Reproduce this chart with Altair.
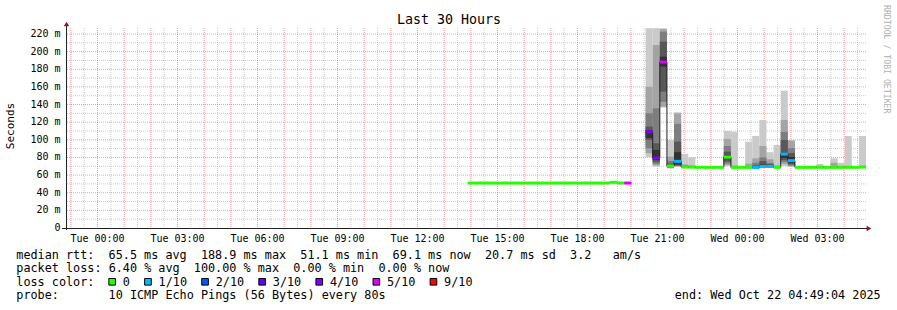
import altair as alt
import pandas as pd

# ---------------- data ----------------
x_tick_hours = [0, 3, 6, 9, 12, 15, 18, 21, 24, 27]
x_tick_labels = ["Tue 00:00", "Tue 03:00", "Tue 06:00", "Tue 09:00", "Tue 12:00",
                 "Tue 15:00", "Tue 18:00", "Tue 21:00", "Wed 00:00", "Wed 03:00"]
y_tick_values = [0, 20, 40, 60, 80, 100, 120, 140, 160, 180, 200, 220]
y_tick_labels = ["0", "20 m", "40 m", "60 m", "80 m", "100 m", "120 m", "140 m",
                 "160 m", "180 m", "200 m", "220 m"]

window_hours = [-1.182, 28.818]      # hours relative to Tue 00:00
y_max_ms = 226.8
first_bin_hour = 13.886
bin_hours = 16 / 60

median_ms = [
    51.0, 51.0, 51.0, 51.0, 51.0, 51.0, 51.0, 51.0, 51.0, 51.0,
    51.0, 51.0, 51.0, 51.0, 51.0, 51.0, 51.0, 51.0, 51.0, 51.0,
    51.8, 51.0, 51.0, None, None,
    109.0, 79.4, 188.2, 70.3, 75.6, 69.2, 69.0, 68.8, 68.8, 68.8,
    68.8, 80.3, 68.8, 68.8, 68.8, 68.6, 69.8, 69.8, 68.8, 83.8,
    76.4, 68.8, 68.8, 68.8, 68.8, 68.8, 68.8, 68.8, 68.8, 68.8, 69.1,
]
loss_tenths = [
    0, 0, 0, 0, 0, 0, 0, 0, 0, 0,
    0, 0, 0, 0, 0, 0, 0, 0, 0, 0,
    0, 0, 5, None, None,
    4, 4, 5, 0, 1, 0, 0, 0, 0, 0,
    0, 0, 0, 0, 0, 1, 1, 1, 0, 1,
    1, 0, 0, 0, 0, 0, 0, 0, 0, 0, 0,
]
# sorted ping values p1..p10 (ms) per bin, None = no visible smoke
smoke_ms = [None] * 25 + [
    [80.5, 84.7, 90.4, 100.0, 102.0, 111.0, 115.0, 130.0, 160.2, 226.5],
    [69.5, 70.9, 72.6, 74.8, 77.0, 88.5, 96.0, 135.7, 207.5, 226.5],
    [136.6, 137.6, 143.2, 154.6, 183.0, 194.3, 211.3, 222.6, 225.5, 226.5],
    [67.5, 68.0, 68.5, 69.0, 69.5, 71.5, 73.0, 76.0, 81.0, 99.8],
    [69.5, 70.0, 70.5, 71.0, 72.0, 86.0, 98.0, 118.0, 130.0, 131.2],
    [68.0, 68.2, 68.5, 68.8, 69.0, 69.5, 70.0, 71.0, 72.0, 84.0],
    [68.0, 68.2, 68.5, 68.8, 69.0, 69.3, 69.6, 70.0, 71.0, 80.2],
    None, None, None, None,
    [70.3, 71.4, 73.1, 75.2, 78.2, 81.6, 86.5, 93.0, 101.0, 110.0],
    [68.0, 68.2, 68.5, 68.8, 69.0, 69.3, 69.6, 70.0, 71.0, 109.2],
    None,
    [68.0, 68.2, 68.5, 68.8, 69.0, 69.3, 69.6, 70.0, 73.0, 97.9],
    [67.8, 68.0, 68.2, 68.5, 68.8, 69.5, 71.0, 74.0, 79.0, 104.3],
    [68.5, 69.0, 69.3, 69.6, 70.0, 72.0, 76.0, 80.0, 93.0, 122.5],
    [68.5, 69.0, 69.3, 69.6, 70.0, 71.0, 72.5, 74.0, 78.0, 86.0],
    [68.0, 68.2, 68.5, 68.8, 69.0, 69.3, 69.6, 70.0, 71.0, 94.1],
    [70.3, 72.6, 74.8, 77.0, 79.4, 85.4, 99.8, 109.0, 122.5, 155.7],
    [69.5, 70.0, 71.0, 72.0, 73.7, 80.5, 85.0, 90.4, 99.0, 99.8],
    None, None, None,
    [68.0, 68.2, 68.5, 68.8, 69.0, 69.3, 69.6, 70.0, 70.5, 72.6],
    None,
    [68.0, 68.2, 68.5, 68.8, 69.0, 69.3, 69.6, 70.0, 74.0, 79.0],
    [68.0, 68.2, 68.5, 68.8, 69.0, 69.3, 69.6, 70.0, 70.5, 73.8],
    [68.0, 68.2, 68.5, 68.8, 69.0, 69.3, 69.6, 70.0, 70.5, 104.3],
    None,
    [68.0, 68.2, 68.5, 68.8, 69.0, 69.3, 69.6, 70.0, 70.5, 104.3],
]

loss_levels = [0, 1, 2, 3, 4, 5, 9]
loss_names = ["0", "1/10", "2/10", "3/10", "4/10", "5/10", "9/10"]
loss_colors = ["#26ff00", "#00b8ff", "#0059ff", "#5e00ff", "#7e00ff", "#dd00ff", "#ff0000"]
smoke_shades = ["#cacaca", "#a4a4a4", "#7e7e7e", "#585858", "#323232"]

title_text = "Last 30 Hours"
y_title = "Seconds"
credit_text = "RRDTOOL / TOBI OETIKER"
legend_line1 = "median rtt:  65.5 ms avg  188.9 ms max  51.1 ms min  69.1 ms now  20.7 ms sd  3.2   am/s"
legend_line2 = "packet loss: 6.40 % avg  100.00 % max  0.00 % min  0.00 % now"
legend_line3_head = "loss color:"
legend_line4 = "probe:       10 ICMP Echo Pings (56 Bytes) every 80s"
end_text = "end: Wed Oct 22 04:49:04 2025"

# ---------------- layout ----------------
PAD_L, PAD_T, W, H = 66, 28, 800, 200
FONT = "DejaVu Sans Mono"
CW = 7.1           # legend character cell
LFS = 11.8         # legend font size
X0 = 16.3 - PAD_L  # legend left edge (plot coords)

xs = alt.Scale(domain=window_hours, nice=False, zero=False)
ys = alt.Scale(domain=[0, y_max_ms], nice=False, zero=False)
color_of = dict(zip(loss_levels, loss_colors))

# ---------------- frames ----------------
bins = []
for k, (m, l) in enumerate(zip(median_ms, loss_tenths)):
    if m is None:
        continue
    x0 = first_bin_hour + k * bin_hours
    bins.append({"k": k, "x0": x0, "x1": x0 + bin_hours, "med": m,
                 "lo": m - 1.7, "hi": m + 1.7, "col": color_of[l]})
bins_df = pd.DataFrame(bins)

smoke_rows = []
for band in range(5):
    for k, p in enumerate(smoke_ms):
        if p is None:
            continue
        x0 = first_bin_hour + k * bin_hours
        smoke_rows.append({"x0": x0, "x1": x0 + bin_hours, "lo": p[band],
                           "hi": p[9 - band], "shade": smoke_shades[band], "ord": band})
smoke_df = pd.DataFrame(smoke_rows)

line_rows = []
seg = 0
prev = None
for k, m in enumerate(median_ms + [None]):
    x0 = first_bin_hour + k * bin_hours
    if m is None:
        if prev is not None:
            line_rows.append({"x": x0, "y": prev, "seg": seg})
            seg += 1
        prev = None
        continue
    line_rows.append({"x": x0, "y": m, "seg": seg})
    prev = m
line_df = pd.DataFrame(line_rows)

hmin, hmax = window_hours
major_x = [h for h in range(-1, 29) if hmin <= h <= hmax]
minor_x = [h + 0.5 for h in range(-2, 29) if hmin <= h + 0.5 <= hmax]
major_y = [v for v in range(20, 221, 20)]
minor_y = [v for v in range(10, 221, 20)]

# ---------------- layers ----------------
def vrule(vals, color, opacity):
    return alt.Chart(pd.DataFrame({"h": vals})).mark_rule(
        color=color, opacity=opacity, strokeWidth=1, strokeDash=[1, 1]
    ).encode(x=alt.X("h:Q", scale=xs, axis=None))

def hrule(vals, color, opacity):
    return alt.Chart(pd.DataFrame({"v": vals})).mark_rule(
        color=color, opacity=opacity, strokeWidth=1, strokeDash=[1, 1]
    ).encode(y=alt.Y("v:Q", scale=ys, axis=None))

grid = [
    vrule(minor_x, "#8c8c8c", 0.45),
    hrule(minor_y, "#8c8c8c", 0.45),
    vrule(major_x, "#ff0000", 0.4),
    hrule(major_y, "#ff0000", 0.4),
]

smoke = alt.Chart(smoke_df).mark_rect().encode(
    x=alt.X("x0:Q", scale=xs, axis=None), x2="x1:Q",
    y=alt.Y("lo:Q", scale=ys, axis=None), y2="hi:Q",
    color=alt.Color("shade:N", scale=None),
    order=alt.Order("ord:Q"),
)

median_line = alt.Chart(line_df).mark_line(
    interpolate="step-after", color="#202020", strokeWidth=1
).encode(
    x=alt.X("x:Q", scale=xs, axis=None),
    y=alt.Y("y:Q", scale=ys, axis=None),
    detail="seg:N",
)

loss_band = alt.Chart(bins_df).mark_rect().encode(
    x=alt.X("x0:Q", scale=xs, axis=None), x2="x1:Q",
    y=alt.Y("lo:Q", scale=ys, axis=None), y2="hi:Q",
    color=alt.Color("col:N", scale=None),
)

axis_color = "#222222"
arrow_color = "#8b1a1a"
x_axis_line = alt.Chart().mark_rule(color=axis_color, strokeWidth=1).encode(
    x=alt.value(-4), x2=alt.value(W + 1), y=alt.value(H + 0.5))
y_axis_line = alt.Chart().mark_rule(color=axis_color, strokeWidth=1).encode(
    x=alt.value(0.5), y=alt.value(H + 2), y2=alt.value(-3))
arrow_up = alt.Chart().mark_point(shape="triangle-up", filled=True, color=arrow_color,
                                  size=30, opacity=1).encode(
    x=alt.value(0.5), y=alt.value(-4))
arrow_right = alt.Chart().mark_point(shape="triangle-right", filled=True, color=arrow_color,
                                     size=30, opacity=1).encode(
    x=alt.value(W + 3), y=alt.value(H + 0.5))

xlab = alt.Chart(pd.DataFrame({"h": x_tick_hours, "t": x_tick_labels})).mark_text(
    font=FONT, fontSize=10, color="#000000", align="center", baseline="alphabetic"
).encode(x=alt.X("h:Q", scale=xs, axis=None), y=alt.value(H + 13.7), text="t:N")

ylab = alt.Chart(pd.DataFrame({"v": y_tick_values, "t": y_tick_labels})).mark_text(
    font=FONT, fontSize=10, color="#000000", align="right", baseline="middle"
).encode(y=alt.Y("v:Q", scale=ys, axis=None), x=alt.value(-5.5), text="t:N")

title = alt.Chart().mark_text(
    text=title_text, font=FONT, fontSize=13.3, color="#000000",
    align="center", baseline="alphabetic"
).encode(x=alt.value(449 - PAD_L), y=alt.value(24.3 - PAD_T))

ytitle = alt.Chart().mark_text(
    text=y_title, font=FONT, fontSize=11, color="#000000", angle=270,
    align="center", baseline="middle"
).encode(x=alt.value(11 - PAD_L), y=alt.value(126 - PAD_T))

credit = alt.Chart().mark_text(
    text=credit_text, font=FONT, fontSize=8.2, color="#b0b0b0", angle=90,
    align="left", baseline="middle"
).encode(x=alt.value(886 - PAD_L), y=alt.value(5 - PAD_T))

# legend tokens laid out on a character grid
def tokens(line):
    out = []
    i = 0
    n = len(line)
    while i < n:
        if line[i] == " ":
            i += 1
            continue
        j = i
        while j < n and not (line[j] == " " and (j + 1 < n and line[j + 1] == " ")):
            j += 1
        out.append((i, line[i:j].rstrip()))
        i = j
    return out

baselines = [258.5, 272.0, 285.7, 299.3]
tok_rows = []
for li, line in [(0, legend_line1), (1, legend_line2), (3, legend_line4)]:
    for idx, t in tokens(line):
        tok_rows.append({"px": X0 + idx * CW, "py": baselines[li] - PAD_T, "t": t})
tok_rows.append({"px": X0, "py": baselines[2] - PAD_T, "t": legend_line3_head})
sq_rows = []
for n_i, (name, col) in enumerate(zip(loss_names, loss_colors)):
    sq_idx = 13 if n_i == 0 else 18 + 8 * (n_i - 1)
    sq_rows.append({"px": X0 + (sq_idx + 0.5) * CW + 0.3 * n_i, "py": 281.8 - PAD_T, "col": col})
    tok_rows.append({"px": X0 + (sq_idx + 2) * CW + 0.3 * n_i, "py": baselines[2] - PAD_T, "t": name})
tok_df = pd.DataFrame(tok_rows)
sq_df = pd.DataFrame(sq_rows)

legend_text = alt.Chart(tok_df).mark_text(
    font=FONT, fontSize=LFS, color="#000000", align="left", baseline="alphabetic"
).encode(x=alt.X("px:Q", scale=None, axis=None), y=alt.Y("py:Q", scale=None, axis=None),
         text="t:N")

legend_sq = alt.Chart(sq_df).mark_square(
    size=44, filled=True, stroke="#000000", strokeWidth=1, opacity=1
).encode(x=alt.X("px:Q", scale=None, axis=None), y=alt.Y("py:Q", scale=None, axis=None),
         color=alt.Color("col:N", scale=None))

end_lab = alt.Chart().mark_text(
    text=end_text, font=FONT, fontSize=LFS, color="#000000",
    align="right", baseline="alphabetic"
).encode(x=alt.value(880.7 - PAD_L), y=alt.value(baselines[3] - PAD_T))

chart = alt.layer(
    *grid, smoke, median_line, loss_band,
    x_axis_line, y_axis_line, arrow_up, arrow_right,
    xlab, ylab, title, ytitle, credit, legend_text, legend_sq, end_lab,
).properties(
    width=W, height=H,
    padding={"left": PAD_L, "top": PAD_T, "right": 897 - PAD_L - W, "bottom": 310 - PAD_T - H},
    autosize=alt.AutoSizeParams(type="none"),
    background="#ffffff",
).configure_view(stroke=None)

chart.save("out.html", embed_options={"renderer": "svg", "actions": False})
